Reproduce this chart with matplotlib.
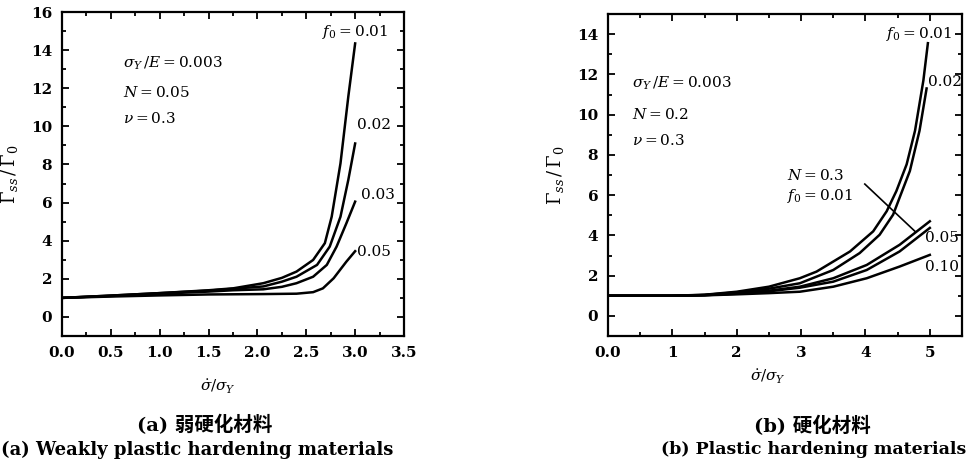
import matplotlib
matplotlib.use("Agg")
import matplotlib.pyplot as plt
from matplotlib.ticker import MultipleLocator, FixedLocator, FixedFormatter

plt.rcParams['font.family'] = ['DejaVu Serif']
plt.rcParams['mathtext.fontset'] = 'dejavuserif'

# ---------------- data: panel (a) weakly hardening ----------------
xa_001 = [0.0, 0.5, 1.0, 1.5, 1.75, 2.06, 2.25, 2.4, 2.57, 2.69, 2.76, 2.85, 2.93, 3.0]
ya_001 = [1.0, 1.12, 1.25, 1.4, 1.5, 1.77, 2.05, 2.38, 2.99, 3.87, 5.26, 8.06, 11.56, 14.35]
xa_002 = [0.0, 0.5, 1.0, 1.5, 1.75, 2.06, 2.25, 2.4, 2.61, 2.74, 2.85, 2.93, 3.0]
ya_002 = [1.0, 1.12, 1.25, 1.38, 1.48, 1.6, 1.85, 2.11, 2.73, 3.69, 5.26, 7.19, 9.1]
xa_003 = [0.0, 0.5, 1.0, 1.5, 1.75, 2.06, 2.25, 2.4, 2.57, 2.71, 2.81, 2.91, 3.0]
ya_003 = [1.0, 1.1, 1.22, 1.33, 1.4, 1.45, 1.58, 1.77, 2.11, 2.73, 3.69, 4.91, 6.05]
xa_005 = [0.0, 0.5, 1.0, 1.5, 2.06, 2.4, 2.57, 2.67, 2.78, 2.91, 3.0]
ya_005 = [1.0, 1.07, 1.13, 1.18, 1.2, 1.22, 1.3, 1.5, 2.03, 2.9, 3.45]
labels_a = ["$f_0=0.01$", "0.02", "0.03", "0.05"]

# ---------------- data: panel (b) hardening ----------------
xb_001 = [0.0, 1.0, 1.5, 2.0, 2.5, 2.98, 3.24, 3.76, 4.12, 4.33, 4.48, 4.64, 4.77, 4.90, 4.97]
yb_001 = [1.0, 1.0, 1.05, 1.2, 1.45, 1.87, 2.2, 3.2, 4.2, 5.2, 6.2, 7.53, 9.2, 11.7, 13.55]
xb_002 = [0.0, 1.0, 1.5, 2.0, 2.5, 2.98, 3.5, 3.91, 4.22, 4.43, 4.53, 4.69, 4.84, 4.95]
yb_002 = [1.0, 1.0, 1.04, 1.17, 1.35, 1.62, 2.28, 3.12, 4.03, 5.03, 5.87, 7.2, 9.2, 11.3]
xb_low = [0.0, 1.0, 1.5, 2.0, 2.5, 2.98, 3.5, 4.02, 4.53, 5.0]
yb_n03 = [1.0, 1.0, 1.03, 1.12, 1.25, 1.45, 1.87, 2.53, 3.53, 4.7]
yb_005 = [1.0, 1.0, 1.03, 1.1, 1.22, 1.4, 1.7, 2.28, 3.2, 4.37]
yb_010 = [1.0, 1.0, 1.02, 1.07, 1.13, 1.2, 1.45, 1.87, 2.45, 3.03]

fig = plt.figure(figsize=(9.69, 4.71), dpi=100)
axa = fig.add_axes([62/969, 1-336/471, (404-62)/969, (336-12)/471])
axb = fig.add_axes([608/969, 1-336/471, (962-608)/969, (336-14)/471])

lw = 1.8
for x, y in ((xa_001, ya_001), (xa_002, ya_002), (xa_003, ya_003), (xa_005, ya_005)):
    axa.plot(x, y, color='black', lw=lw, solid_joinstyle='round')

for x, y in ((xb_001, yb_001), (xb_002, yb_002), (xb_low, yb_n03),
             (xb_low, yb_005), (xb_low, yb_010)):
    axb.plot(x, y, color='black', lw=lw, solid_joinstyle='round')

fs = 11
for ax in (axa, axb):
    for sp in ax.spines.values():
        sp.set_linewidth(1.6)
    ax.tick_params(which='both', direction='in', top=True, right=True, width=1.3,
                   labelsize=fs)
    ax.tick_params(which='major', length=5, pad=7)
    ax.tick_params(which='minor', length=3)
    ax.set_ylabel(r"$\mathit{\Gamma}_{ss}\,/\,\mathit{\Gamma}_0$", fontsize=fs+2, labelpad=8)

# panel a axes
axa.set_xlim(0, 3.5)
axa.set_ylim(-1, 16)
axa.xaxis.set_major_locator(FixedLocator([0, .5, 1, 1.5, 2, 2.5, 3, 3.5]))
axa.xaxis.set_major_formatter(FixedFormatter(["%.1f" % v for v in [0, .5, 1, 1.5, 2, 2.5, 3, 3.5]]))
axa.xaxis.set_minor_locator(MultipleLocator(0.25))
axa.yaxis.set_major_locator(FixedLocator(list(range(0, 17, 2))))
axa.yaxis.set_minor_locator(MultipleLocator(1))

# panel b axes
axb.set_xlim(0, 5.5)
axb.set_ylim(-1, 15)
axb.xaxis.set_major_locator(FixedLocator([0, 1, 2, 3, 4, 5]))
axb.xaxis.set_major_formatter(FixedFormatter(["0.0", "1", "2", "3", "4", "5"]))
axb.xaxis.set_minor_locator(MultipleLocator(0.5))
axb.yaxis.set_major_locator(FixedLocator(list(range(0, 15, 2))))
axb.yaxis.set_minor_locator(MultipleLocator(1))

for ax in (axa, axb):
    for lab in ax.get_xticklabels() + ax.get_yticklabels():
        lab.set_fontweight('bold')

# annotations panel a
tfs = 11
axa.text(0.62, 13.3, r"$\sigma_Y\,/E=0.003$", fontsize=tfs, va='center')
axa.text(0.62, 11.8, r"$N=0.05$", fontsize=tfs, va='center')
axa.text(0.62, 10.4, r"$\nu=0.3$", fontsize=tfs, va='center')
axa.text(3.34, 14.95, labels_a[0], fontsize=tfs, va='center', ha='right')
axa.text(3.02, 10.07, labels_a[1], fontsize=tfs, va='center', ha='left')
axa.text(3.06, 6.4, labels_a[2], fontsize=tfs, va='center', ha='left')
axa.text(3.02, 3.4, labels_a[3], fontsize=tfs, va='center', ha='left')

# annotations panel b
axb.text(0.37, 11.55, r"$\sigma_Y\,/E=0.003$", fontsize=tfs, va='center')
axb.text(0.37, 10.0, r"$N=0.2$", fontsize=tfs, va='center')
axb.text(0.37, 8.7, r"$\nu=0.3$", fontsize=tfs, va='center')
axb.text(5.35, 14.0, r"$f_0=0.01$", fontsize=tfs, va='center', ha='right')
axb.text(4.97, 11.6, "0.02", fontsize=tfs, va='center', ha='left')
axb.text(2.78, 7.0, r"$N=0.3$", fontsize=tfs, va='center', ha='left')
axb.text(2.78, 5.95, r"$f_0=0.01$", fontsize=tfs, va='center', ha='left')
axb.plot([3.99, 4.77], [6.55, 4.2], color='black', lw=1.2)
axb.text(4.92, 3.85, "0.05", fontsize=tfs, va='center', ha='left')
axb.text(4.92, 2.45, "0.10", fontsize=tfs, va='center', ha='left')

# x labels
fig.text(218/969, 1-387/471, r"$\dot{\sigma}/\sigma_Y$", fontsize=fs, ha='center', va='center')
fig.text(768/969, 1-377/471, r"$\dot{\sigma}/\sigma_Y$", fontsize=fs, ha='center', va='center')

# captions
cjk = ['DejaVu Serif', 'Noto Sans CJK SC']
fig.text(205/969, 1-425/471, "(a) 弱硬化材料", fontsize=14, ha='center', va='center',
         family=cjk, weight='bold')
fig.text(812/969, 1-426/471, "(b) 硬化材料", fontsize=14, ha='center', va='center',
         family=cjk, weight='bold')
fig.text(1/969, 1-450/471, "(a) Weakly plastic hardening materials", fontsize=13,
         ha='left', va='center', weight='bold')
fig.text(966/969, 1-450/471, "(b) Plastic hardening materials", fontsize=12.5,
         ha='right', va='center', weight='bold')

fig.savefig("out.png", dpi=100)
